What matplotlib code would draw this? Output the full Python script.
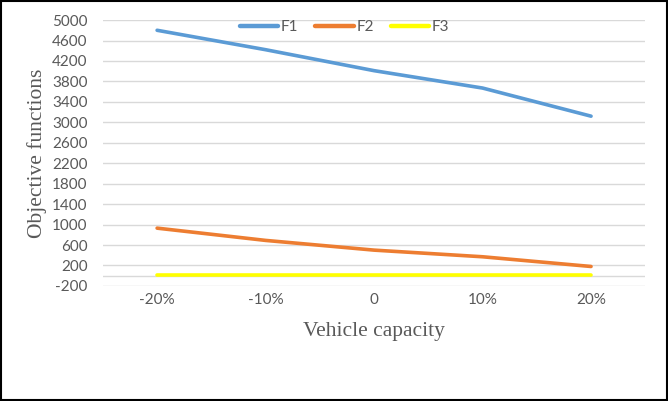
import matplotlib
matplotlib.use("Agg")
import matplotlib.pyplot as plt
from matplotlib.patches import Rectangle

plt.rcParams["axes.unicode_minus"] = False

# data
categories = ["-20%", "-10%", "0", "10%", "20%"]
f1 = [4800, 4420, 4010, 3670, 3120]
f2 = [930, 690, 500, 370, 180]
f3 = [20, 20, 20, 20, 20]
y_ticks = list(range(-200, 5001, 400))

fig = plt.figure(figsize=(6.68, 4.01), dpi=100)
ax = fig.add_axes([0.154, 0.287, 0.812, 0.663])

x = list(range(len(categories)))
ax.plot(x, f1, color="#5B9BD5", lw=2.6, solid_capstyle="round", label="F1", zorder=3)
ax.plot(x, f2, color="#ED7D31", lw=2.6, solid_capstyle="round", label="F2", zorder=3)
ax.plot(x, f3, color="#FFFF00", lw=2.6, solid_capstyle="round", label="F3", zorder=3)

ax.set_xlim(-0.5, len(categories) - 0.5)
ax.set_ylim(-200, 5000)
ax.set_yticks(y_ticks)
ax.set_xticks(x)
ax.set_xticklabels(categories)
ax.yaxis.grid(True, color="#d9d9d9", lw=1)
ax.axhline(0, color="#d9d9d9", lw=1, zorder=1)
ax.set_axisbelow(True)
for s in ax.spines.values():
    s.set_visible(False)
ax.tick_params(length=0, labelsize=11, labelcolor="#595959")
ax.tick_params(axis="x", pad=5)
ax.tick_params(axis="y", pad=11)
for lab in ax.get_xticklabels() + ax.get_yticklabels():
    lab.set_fontfamily("Lato")

ax.set_xlabel("Vehicle capacity", fontsize=15.5, color="#595959",
              family="Liberation Serif", labelpad=11)
ax.set_ylabel("Objective functions", fontsize=15.5, color="#595959",
              family="Liberation Serif", labelpad=4)

leg = fig.legend(loc="center", bbox_to_anchor=(0.516, 0.933), ncol=3, frameon=False,
                 handlelength=2.5, columnspacing=1.1, handletextpad=0.2,
                 prop={"family": "Lato", "size": 11})
for t in leg.get_texts():
    t.set_color("#595959")
for h in leg.get_lines():
    h.set_linewidth(3.2)

fig.patches.append(Rectangle((0.002, 0.003), 0.996, 0.994, transform=fig.transFigure,
                             fill=False, edgecolor="black", lw=1.5))

fig.savefig("out.png", dpi=100)
